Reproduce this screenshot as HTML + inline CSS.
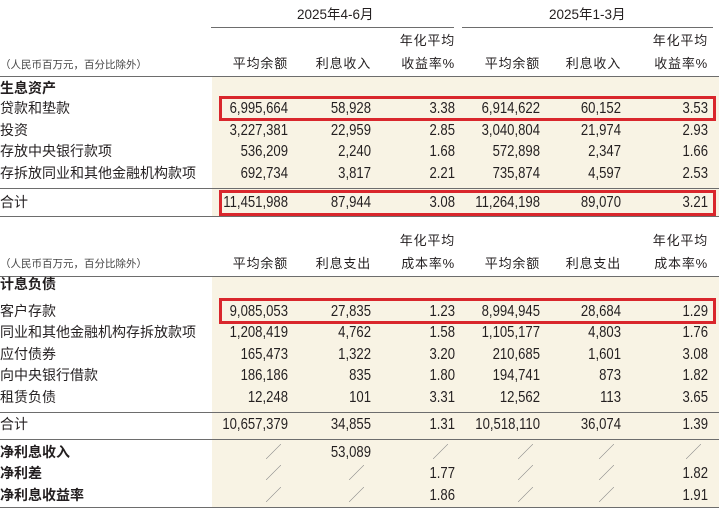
<!DOCTYPE html>
<html><head><meta charset="utf-8">
<style>
html,body{margin:0;padding:0;background:#fff;}
#root{position:relative;width:719px;height:511px;overflow:hidden;font-family:"Liberation Sans","Noto Sans CJK SC",sans-serif;color:#231f20;}
.bg{position:absolute;background:#f8f3e4;}
.ln{position:absolute;height:1px;background:#6d6d6d;}
.t{position:absolute;white-space:nowrap;line-height:16px;}
.lbl{font-size:14px;left:9px;}
.num{font-family:"Liberation Sans Narrow","Liberation Sans","Noto Sans CJK SC",sans-serif;font-size:16px;text-align:right;width:120px;transform:scaleX(0.82);transform-origin:right center;}
.hd{font-size:13px;text-align:right;width:100px;letter-spacing:0.8px;}
.note{font-size:10.5px;left:9px;color:#444;}
.box{position:absolute;border:3px solid #d9262c;box-sizing:border-box;}
.sl{color:#888;font-size:15px;}
</style></head><body>
<div id="root">
<div class="bg" style="left:212px;top:77px;width:507px;height:140px"></div>
<div class="bg" style="left:212px;top:277px;width:507px;height:230px"></div>
<div class="t" style="left:297px;top:7px;font-size:13.5px">2025年4-6月</div>
<div class="t" style="left:549px;top:7px;font-size:13.5px">2025年1-3月</div>
<div class="ln" style="left:211px;top:27px;width:243px"></div>
<div class="ln" style="left:462px;top:27px;width:251px"></div>
<div class="ln" style="left:0;top:76px;width:719px"></div>
<div class="ln" style="left:0;top:188px;width:719px"></div>
<div class="ln" style="left:0;top:216px;width:719px"></div>
<div class="ln" style="left:0;top:276px;width:719px"></div>
<div class="ln" style="left:0;top:412px;width:719px"></div>
<div class="ln" style="left:0;top:439px;width:719px"></div>
<div class="ln" style="left:0;top:507px;width:719px"></div>
<div class="box" style="left:219px;top:96px;width:497px;height:25px"></div>
<div class="box" style="left:219px;top:190px;width:497px;height:26px"></div>
<div class="box" style="left:219px;top:298px;width:497px;height:26px"></div>
</div>
<script>
const colRight=[288,371,455,540,621,708];
const hdr1Top=["","","年化平均","","","年化平均"];
const hdr1Bot=["平均余额","利息收入","收益率%","平均余额","利息收入","收益率%"];
const hdr2Bot=["平均余额","利息支出","成本率%","平均余额","利息支出","成本率%"];
const assetLabels=["贷款和垫款","投资","存放中央银行款项","存拆放同业和其他金融机构款项","合计"];
const assetValues=[
["6,995,664","58,928","3.38","6,914,622","60,152","3.53"],
["3,227,381","22,959","2.85","3,040,804","21,974","2.93"],
["536,209","2,240","1.68","572,898","2,347","1.66"],
["692,734","3,817","2.21","735,874","4,597","2.53"],
["11,451,988","87,944","3.08","11,264,198","89,070","3.21"]];
const assetTops=[100,122,143,165,194];
const liabLabels=["客户存款","同业和其他金融机构存拆放款项","应付债券","向中央银行借款","租赁负债","合计","净利息收入","净利差","净利息收益率"];
const liabValues=[
["9,085,053","27,835","1.23","8,994,945","28,684","1.29"],
["1,208,419","4,762","1.58","1,105,177","4,803","1.76"],
["165,473","1,322","3.20","210,685","1,601","3.08"],
["186,186","835","1.80","194,741","873","1.82"],
["12,248","101","3.31","12,562","113","3.65"],
["10,657,379","34,855","1.31","10,518,110","36,074","1.39"],
["/","53,089","/","/","/","/"],
["/","/","1.77","/","/","1.82"],
["/","/","1.86","/","/","1.91"]];
const liabTops=[303,324,346,367,389,416,444,465,487];
const root=document.getElementById('root');
function txt(cls,left,top,s,name){
  const d=document.createElement('div');
  d.className='t '+cls;
  d.style.left=left+'px';d.style.top=top+'px';
  d.textContent=s;
  
  
  root.appendChild(d);return d;
}
txt('note',0,57,'（人民币百万元，百分比除外）','assets-unit-note');
txt('note',0,256,'（人民币百万元，百分比除外）','liab-unit-note');
for(let i=0;i<6;i++){
  if(hdr1Top[i]){txt('hd',colRight[i]-100,33,hdr1Top[i],'assets-col-header-top');txt('hd',colRight[i]-100,233,hdr1Top[i],'liab-col-header-top');}
  txt('hd',colRight[i]-100,56,hdr1Bot[i],'assets-col-header');
  txt('hd',colRight[i]-100,256,hdr2Bot[i],'liab-col-header');
}
txt('lbl',0,80,'生息资产','assets-section-title').style.fontWeight='bold';
txt('lbl',0,276,'计息负债','liab-section-title').style.fontWeight='bold';
assetLabels.forEach((l,r)=>{
  txt('lbl',0,assetTops[r],l,'asset-row-label');
  assetValues[r].forEach((v,c)=>{txt('num',colRight[c]-120,assetTops[r]+1,v,'asset-cell');});
});
liabLabels.forEach((l,r)=>{
  const e=txt('lbl',0,liabTops[r],l,'liab-row-label');
  if(r>=6)e.style.fontWeight='bold';
  liabValues[r].forEach((v,c)=>{
    if(v==='/'){
      txt('sl',colRight[c]-22,liabTops[r]+1,'╱','liab-cell-na');
    } else {
      txt('num',colRight[c]-120,liabTops[r]+1,v,'liab-cell');
    }
  });
});
</script>
</body></html>
